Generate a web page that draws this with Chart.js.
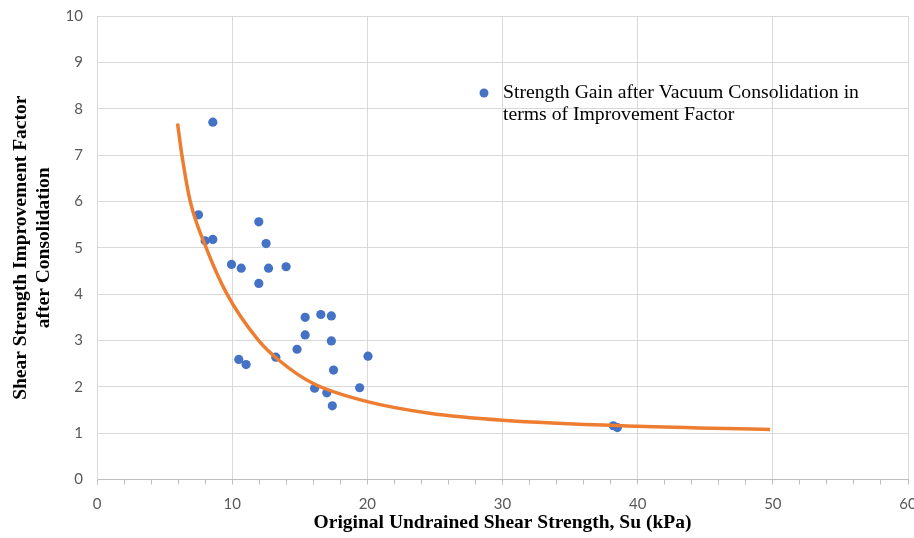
<!DOCTYPE html>
<html>
<head>
<meta charset="utf-8">
<script src="https://cdn.jsdelivr.net/npm/chart.js@4"></script>
<style>
  html, body { margin: 0; padding: 0; background: #fff; }
  #wrap { width: 914px; height: 538px; }
</style>
</head>
<body>
<div id="wrap"><canvas id="chart"></canvas></div>
<script>
// measured points: original Su (kPa) vs improvement factor
const suValues = [8.57, 7.51, 8.0, 8.57, 11.97, 12.51, 9.95, 10.67, 12.69, 13.99, 11.97, 15.4, 16.56, 17.34, 15.4, 17.34, 14.8, 10.49, 11.03, 13.23, 20.05, 17.5, 16.1, 17.0, 17.41, 19.43, 38.2, 38.5];
const factorValues = [7.71, 5.71, 5.15, 5.18, 5.56, 5.09, 4.64, 4.56, 4.56, 4.59, 4.23, 3.50, 3.56, 3.53, 3.12, 2.99, 2.81, 2.59, 2.48, 2.64, 2.66, 2.36, 1.97, 1.87, 1.59, 1.98, 1.16, 1.12];

// trend curve
const fitSu = [5.96, 6.28, 6.9, 8.05, 9.6, 11.9, 13.6, 16.0, 20.0, 24.6, 30.0, 40.0, 49.8];
const fitFactor = [7.68, 7.0, 6.0, 5.02, 4.01, 3.02, 2.54, 2.07, 1.68, 1.43, 1.28, 1.15, 1.08];

const xTicks = [0, 10, 20, 30, 40, 50, 60];
const yTicks = [0, 1, 2, 3, 4, 5, 6, 7, 8, 9, 10];

const legendLines = ['Strength Gain after Vacuum Consolidation in', 'terms of Improvement Factor'];
const xTitle = 'Original Undrained Shear Strength, Su (kPa)';
const yTitle = ['Shear Strength Improvement Factor', 'after Consolidation'];

const blue = '#4472C4';
const orange = '#ED7D31';
const gridColor = '#d9d9d9';
const serif = '"Liberation Serif", "Times New Roman", serif';

const legendPlugin = {
  id: 'insideLegend',
  afterDraw(chart) {
    const { ctx, chartArea } = chart;
    const x = chartArea.left + 387;
    const y = chartArea.top + 77;
    ctx.save();
    ctx.fillStyle = blue;
    ctx.beginPath();
    ctx.arc(x, y, 4.5, 0, Math.PI * 2);
    ctx.fill();
    ctx.fillStyle = '#000';
    ctx.font = '19.7px ' + serif;
    ctx.textBaseline = 'middle';
    legendLines.forEach((line, i) => ctx.fillText(line, x + 19, y + i * 22));
    ctx.restore();
  }
};

const data = {
  datasets: [
    {
      type: 'line',
      label: 'Fit',
      data: fitSu.map((x, i) => ({ x, y: fitFactor[i] })),
      borderColor: orange,
      borderWidth: 3.5,
      pointRadius: 0,
      cubicInterpolationMode: 'monotone',
      fill: false
    },
    {
      type: 'scatter',
      label: legendLines.join(' '),
      data: suValues.map((x, i) => ({ x, y: factorValues[i] })),
      backgroundColor: blue,
      borderColor: blue,
      borderWidth: 0,
      pointRadius: 4.6
    }
  ]
};

new Chart(document.getElementById('chart'), {
  type: 'scatter',
  data: data,
  plugins: [legendPlugin],
  options: {
    responsive: true,
    maintainAspectRatio: false,
    animation: false,
    layout: { padding: { top: 16, right: 6, left: 0, bottom: 0 } },
    plugins: {
      legend: { display: false },
      tooltip: { enabled: false }
    },
    scales: {
      x: {
        type: 'linear',
        min: 0,
        max: 60,
        afterBuildTicks: (scale) => {
          const t = [];
          for (let v = 0; v <= 60; v += 2) t.push({ value: v });
          scale.ticks = t;
        },
        afterFit: (scale) => { scale.height = 58.5; scale.paddingRight = 0; scale.paddingLeft = 0; },
        ticks: {
          autoSkip: false,
          maxRotation: 0,
          padding: 11,
          color: '#595959',
          font: { family: 'Lato, "Open Sans", sans-serif', size: 15 },
          callback: (v) => xTicks.includes(v) ? String(v) : ''
        },
        grid: {
          color: (c) => xTicks.includes(c.tick && c.tick.value) ? gridColor : 'rgba(0,0,0,0)',
          tickColor: '#bfbfbf',
          tickLength: 5,
          lineWidth: 1
        },
        border: { color: '#bfbfbf' },
        title: {
          display: true,
          text: xTitle,
          color: '#000',
          padding: { top: 0, bottom: 3 },
          font: { family: serif, size: 19.5, weight: 'bold' }
        }
      },
      y: {
        type: 'linear',
        min: 0,
        max: 10,
        afterBuildTicks: (scale) => { scale.ticks = yTicks.map(v => ({ value: v })); },
        afterFit: (scale) => { scale.width = 97; scale.paddingTop = 0; scale.paddingBottom = 0; },
        ticks: {
          padding: 14,
          color: '#595959',
          font: { family: 'Lato, "Open Sans", sans-serif', size: 15 }
        },
        grid: { color: gridColor, drawTicks: false },
        border: { color: gridColor },
        title: {
          display: true,
          text: yTitle,
          color: '#000',
          padding: { top: 9, bottom: 0 },
          font: { family: serif, size: 19.5, weight: 'bold', lineHeight: 1.2 }
        }
      }
    }
  }
});
</script>
</body>
</html>
